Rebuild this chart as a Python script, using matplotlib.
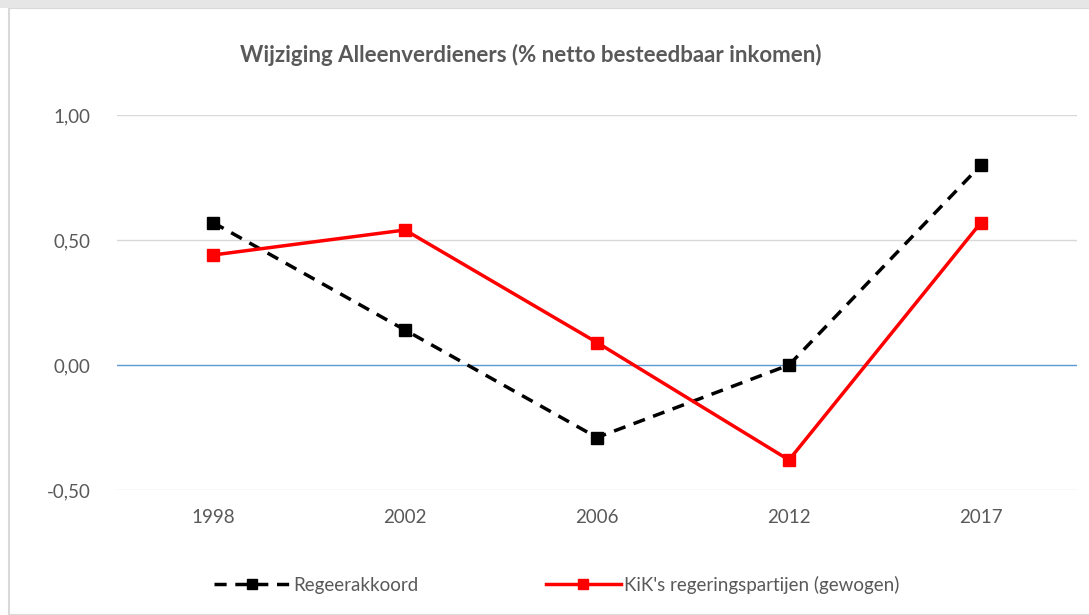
import matplotlib.pyplot as plt
from matplotlib.patches import Rectangle

years = ['1998', '2002', '2006', '2012', '2017']
regeerakkoord = [0.57, 0.14, -0.29, 0.00, 0.80]
kik = [0.44, 0.54, 0.09, -0.38, 0.57]

plt.rcParams['font.family'] = ['Lato', 'DejaVu Sans']

fig = plt.figure(figsize=(10.89, 6.15), dpi=100)
ax = fig.add_axes([117 / 1089, 125 / 615, 960 / 1089, 375 / 615])

# outer chart border
fig.patches.append(Rectangle((9 / 1089, 0), 1, 607 / 615, transform=fig.transFigure,
                             fill=False, edgecolor='#d9d9d9', linewidth=1.5))
fig.patches.append(Rectangle((0, 607 / 615), 1, 8 / 615, transform=fig.transFigure,
                             facecolor='#e6e6e6', edgecolor='none'))

x = range(len(years))
ax.plot(x, regeerakkoord, color='black', linestyle=(0, (3.5, 2.5)), linewidth=2.5,
        marker='s', markersize=8, label='Regeerakkoord', zorder=3)
ax.plot(x, kik, color='#ff0000', linestyle='-', linewidth=2.5,
        marker='s', markersize=8, label="KiK's regeringspartijen (gewogen)", zorder=3)

ax.set_xlim(-0.5, len(years) - 0.5)
ax.set_ylim(-0.5, 1.0)
ax.set_yticks([-0.5, 0.0, 0.5, 1.0])
ax.set_yticklabels(['-0,50', '0,00', '0,50', '1,00'])
ax.set_xticks(list(x))
ax.set_xticklabels(years)
ax.tick_params(length=0, labelsize=13.5, colors='#595959', pad=14)
ax.tick_params(axis='y', pad=19)

for v in [-0.5, 0.5, 1.0]:
    ax.axhline(v, color='#d9d9d9', linewidth=1, zorder=1)
ax.axhline(0, color='#5b9bd5', linewidth=1, zorder=1)
for s in ax.spines.values():
    s.set_visible(False)

fig.text(531 / 1089, 1 - 55 / 615, 'Wijziging Alleenverdieners (% netto besteedbaar inkomen)',
         ha='center', va='center', fontsize=16, fontweight='bold', color='#595959')

fig.legend(loc='center', bbox_to_anchor=(557 / 1089, 1 - 585 / 615), ncol=2,
           frameon=False, fontsize=13.5, labelcolor='#595959', columnspacing=6.8,
           handlelength=4.0, handletextpad=0.2, markerscale=0.85)

fig.savefig('out.png', dpi=100, facecolor='white')
